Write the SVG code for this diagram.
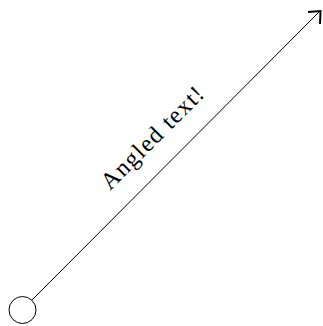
<svg xmlns="http://www.w3.org/2000/svg" width="323" height="326" viewBox="0 0 323 326">
<style>
.edge{fill:none;stroke:#000;stroke-width:1}
.head{fill:none;stroke:#000;stroke-width:2}
.node{fill:#fff;stroke:#000;stroke-width:1}
.lbl{font-family:"Liberation Serif","Times New Roman",serif;font-size:24px;fill:#000}
</style>
<rect width="323" height="326" fill="#fff"/>
<g id="connectors">
<line class="edge" x1="31.5" y1="300.5" x2="320" y2="11"/>
<polyline class="head" points="308,12 320.5,11 320,24"/>
<text class="lbl" transform="translate(110,191) rotate(-45)" textLength="135" lengthAdjust="spacing">Angled text!</text>
</g>
<g id="start">
<circle class="node" cx="22.5" cy="310" r="13.5"/>
</g>
</svg>
